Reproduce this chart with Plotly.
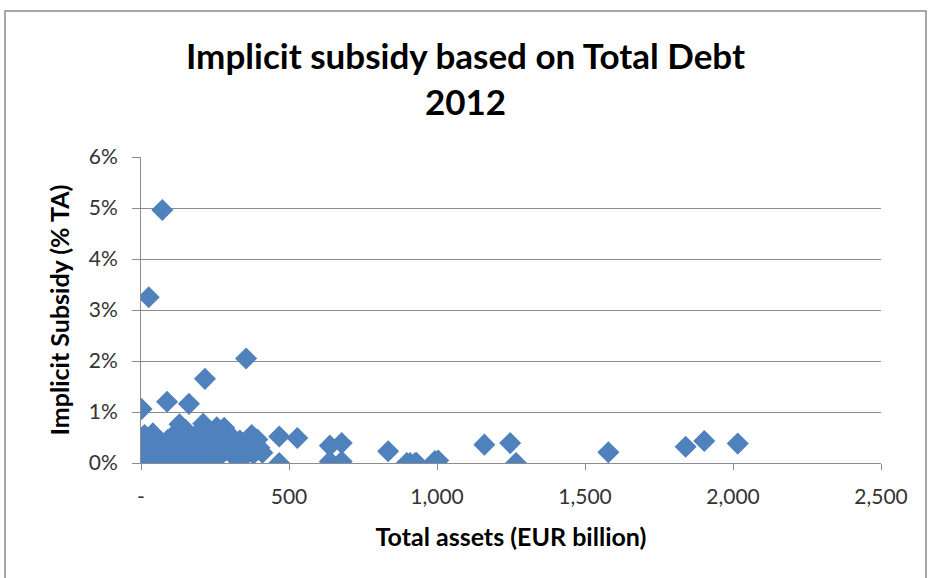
import plotly.graph_objects as go

# Total assets (EUR billion)
total_assets = [
    72, 26, 355, 216, 88, 162, 2,
    5, 8, 3, 10, 6, 12, 20, 25, 30, 35, 40, 45, 50, 55, 60,
    70, 75, 80, 90, 95, 100, 110, 115, 120, 130, 135, 140, 145, 150,
    160, 165, 170, 180, 190, 195, 200, 210, 215, 220, 230, 235, 240, 250,
    256, 260, 270, 281, 290, 300, 310, 334, 340, 350, 360, 374, 380, 385, 393, 400, 410,
    467, 528, 467, 638, 678, 638, 678, 835, 898, 926, 909, 931, 993, 1004,
    1160, 1247, 1267, 1579, 1840, 1903, 2016,
]
# Implicit subsidy (% of total assets)
subsidy = [
    4.96, 3.25, 2.05, 1.65, 1.20, 1.16, 1.06,
    0.02, 0.10, 0.20, 0.30, 0.45, 0.55, 0.05, 0.15, 0.25, 0.35, 0.58, 0.10, 0.00, 0.20, 0.40,
    0.05, 0.30, 0.15, 0.45, 0.00, 0.25, 0.55, 0.10, 0.35, 0.76, 0.00, 0.20, 0.50, 0.65,
    0.10, 0.30, 0.00, 0.45, 0.20, 0.60, 0.05, 0.77, 0.35, 0.15, 0.55, 0.00, 0.30, 0.45,
    0.70, 0.10, 0.25, 0.69, 0.40, 0.55, 0.15, 0.44, 0.07, 0.30, 0.25, 0.55, 0.18, 0.23, 0.46, 0.30, 0.20,
    0.52, 0.49, 0.00, 0.34, 0.39, 0.03, 0.03, 0.23, 0.00, 0.00, 0.00, 0.00, 0.04, 0.05,
    0.36, 0.39, 0.00, 0.21, 0.32, 0.43, 0.38,
]

x_tick_vals = [0, 500, 1000, 1500, 2000, 2500]
x_tick_text = ["-", "500", "1,000", "1,500", "2,000", "2,500"]
y_tick_vals = [0, 1, 2, 3, 4, 5, 6]
y_tick_text = ["0%", "1%", "2%", "3%", "4%", "5%", "6%"]

FONT = "Lato, Liberation Sans, sans-serif"
GRID = "#8c8c8c"

fig = go.Figure()
fig.add_trace(go.Scatter(
    x=total_assets, y=subsidy, mode="markers",
    marker=dict(symbol="diamond", size=17, color="#4F81BD", line=dict(width=0)),
    hoverinfo="x+y", showlegend=False,
))

fig.update_layout(
    width=931, height=578,
    margin=dict(l=141, r=50, t=157, b=115),
    paper_bgcolor="white", plot_bgcolor="white",
    font=dict(family=FONT, color="#333333"),
    title=dict(
        text="<b>Implicit subsidy based on Total Debt<br>2012</b>",
        x=0.5, xanchor="center", y=0.88, yanchor="middle",
        font=dict(family=FONT, size=35, color="#000000"),
    ),
    xaxis=dict(
        range=[0, 2500], tickvals=x_tick_vals, ticktext=x_tick_text,
        showgrid=False, zeroline=False,
        showline=True, linecolor=GRID, linewidth=1,
        ticks="outside", ticklen=6, tickcolor=GRID,
        tickfont=dict(size=21, color="#333333"),
        ticklabelstandoff=9,
        title=dict(text="<b>Total assets (EUR billion)</b>", font=dict(size=25, color="#000000"), standoff=21),
    ),
    yaxis=dict(
        range=[0, 6], tickvals=y_tick_vals, ticktext=y_tick_text,
        showgrid=True, gridcolor=GRID, gridwidth=1, zeroline=False,
        showline=True, linecolor=GRID, linewidth=1,
        ticks="outside", ticklen=8, tickcolor=GRID,
        tickfont=dict(size=21, color="#333333"),
        ticklabelstandoff=10,
        title=dict(text="<b>Implicit Subsidy (% TA)</b>", font=dict(size=25, color="#000000"), standoff=12),
    ),
    shapes=[dict(
        type="rect", xref="paper", yref="paper",
        x0=(5 - 141) / 740, x1=(926 - 141) / 740,
        y0=(463 - 590) / 306, y1=(463 - 11) / 306,
        line=dict(color="#8c8c8c", width=1.5), fillcolor="rgba(0,0,0,0)", layer="below",
    )],
)

fig.write_html(
    "out.html",
    config={"displayModeBar": False},
    post_script="document.body.style.margin='0px';document.body.style.padding='0px';",
)
